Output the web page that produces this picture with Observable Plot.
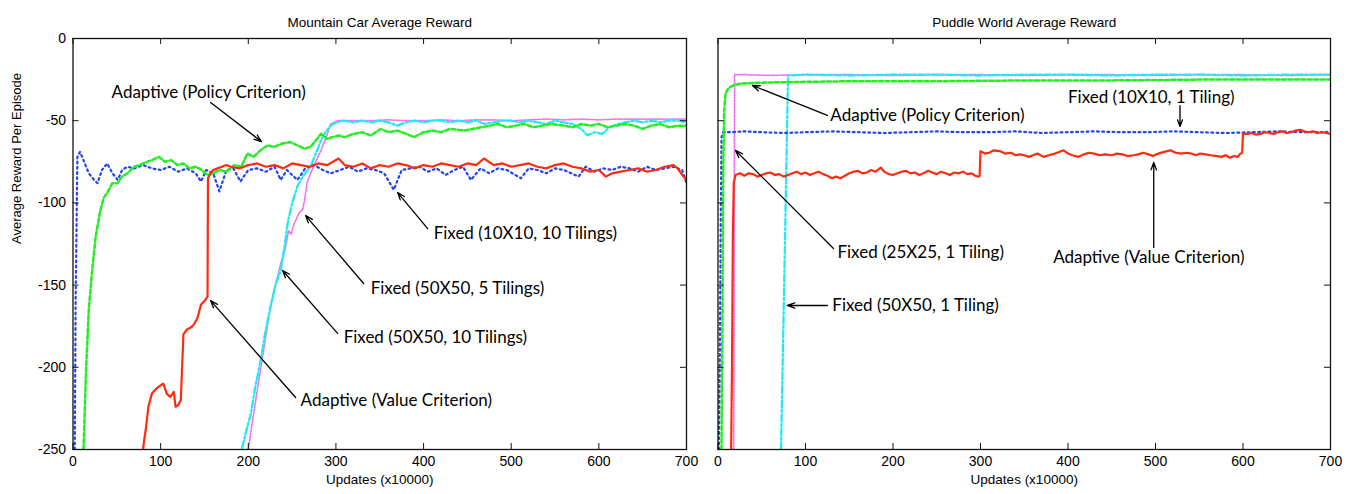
<!DOCTYPE html>
<html><head><meta charset="utf-8">
<script src="https://cdn.jsdelivr.net/npm/d3@7"></script>
<script src="https://cdn.jsdelivr.net/npm/@observablehq/plot@0.6"></script>
<style>
body{margin:0;background:#fff}
#chart{position:relative;width:1354px;height:494px;background:#fff}
#chart svg{position:absolute;top:0}
</style>
</head><body><div id="chart"></div>
<script>
// ---------- tick labels ----------
const xTicks = [0, 100, 200, 300, 400, 500, 600, 700];
const yTicks = [-250, -200, -150, -100, -50, 0];
const titles = ["Mountain Car Average Reward", "Puddle World Average Reward"];
const xLabel = "Updates (x10000)";
const yLabel = "Average Reward Per Episode";

// ---------- Mountain Car ----------
const mcFixed10x10_10T_x = [2,3,5,8,12,18,24,28,33,39,45,51,56,62,70,80,90,100,110,120,130,140,146,152,160,167,175,183,191,200,210,220,230,237,244,250,256,265,275,285,294,305,315,325,335,345,355,366,375,385,395,405,415,425,435,445,454,465,475,485,495,511,520,530,540,550,560,577,585,595,605,615,625,635,645,655,665,675,685,695,700];
const mcFixed10x10_10T_y = [-250,-160,-72,-69,-74,-82,-86,-88,-80,-76,-82,-86,-80,-78,-79,-77,-79,-80,-78,-81,-79,-82,-87,-80,-82,-93,-80,-79,-87,-80,-79,-81,-78,-86,-80,-83,-86,-79,-77,-80,-82,-80,-78,-81,-79,-80,-82,-92,-80,-79,-78,-81,-79,-83,-80,-78,-86,-79,-82,-79,-80,-85,-79,-80,-82,-79,-80,-84,-78,-81,-79,-80,-78,-79,-81,-78,-80,-79,-78,-80,-88];

const mcAdaptivePolicy_x = [12,15,18,22,26,31,35,40,45,51,56,62,70,76,82,90,98,105,112,119,126,133,140,147,153,160,167,175,184,192,199,206,214,222,230,238,248,256,264,271,277,283,290,296,303,310,320,330,340,351,360,370,380,389,400,410,420,430,446,456,466,476,485,495,505,515,525,535,545,560,570,580,590,600,610,620,630,640,650,660,670,680,690,700];
const mcAdaptivePolicy_y = [-250,-200,-165,-140,-120,-105,-97,-93,-88,-88,-84,-82,-78,-77,-75.5,-74,-72,-75,-74,-77,-76,-79,-78,-80,-83,-82,-80,-81,-77,-78,-70,-72,-68,-65,-66,-64,-63,-65,-67,-66,-62,-58,-61,-60,-59,-60,-58,-57,-59,-55,-57,-56,-58,-60,-57,-56,-57,-55,-56,-55,-54,-53,-52,-54,-53,-52,-54,-53,-52,-53,-54,-52,-53,-52,-54,-53,-52,-53,-55,-53,-52,-54,-53,-53];

const mcAdaptiveValue_x = [80,81,83,86,90,95,100,103,107,111,115,117,120,123,126,130,134,138,142,146,151,153.5,154,157,160,165,170,175,180,190,200,210,220,230,240,250,260,270,280,290,303,310,320,330,340,350,360,370,380,390,400,410,420,430,440,450,460,469,480,490,500,510,520,530,540,550,560,570,580,590,600,608,615,625,635,645,655,665,675,685,690,695,700];
const mcAdaptiveValue_y = [-250,-245,-238,-224,-216,-213,-211,-210,-216,-218,-215,-224,-223,-220,-180,-177,-176,-174,-170,-162,-159,-157,-85,-82,-80,-79,-78,-77,-78,-79,-77,-76,-78,-77,-79,-76,-77,-78,-76,-77,-73,-77,-78,-76,-79,-77,-78,-76,-77,-79,-77,-78,-76,-77,-78,-76,-77,-73,-77,-76,-78,-77,-76,-78,-79,-77,-76,-78,-79,-81,-80,-84,-82,-81,-80,-79,-81,-80,-78,-77,-79,-83,-86];

const mcFixed50x50_10T_x = [193,198,203,208,214,219,225,231,237,241,245,250,256,262,268,271,277,283,288,294,300,309,320,330,340,350,360,370,380,390,400,410,420,430,440,450,460,470,480,490,500,510,520,530,540,550,560,570,580,587,595,604,612,622,630,640,650,660,670,680,690,700];
const mcFixed50x50_10T_y = [-249,-238,-228,-212,-196,-180,-164,-150,-141,-128,-112,-100,-90,-84,-80,-78,-70,-62,-57,-53,-51,-50,-51,-50,-51,-50,-51,-53,-51,-50,-51,-50,-50,-51,-50,-51,-50,-52,-51,-50,-50,-51,-50,-51,-52,-50,-51,-52,-55,-59,-57,-58,-54,-52,-51,-50,-51,-50,-51,-50,-50,-51];

const mcFixed50x50_5T_x = [200,205,212,218,225,231,237,242,246,249,252,258,262,264,267,271,277,283,289,294,298,302,320,340,360,380,400,420,440,460,480,500,520,540,560,580,600,620,640,660,680,700];
const mcFixed50x50_5T_y = [-250,-232,-208,-188,-164,-150,-137,-128,-117,-119,-113,-106,-104,-99,-88,-82,-75,-68,-60,-52,-51,-50,-50,-50,-49.5,-50,-50,-49.5,-50,-49.5,-49.5,-50,-49.5,-49,-49.5,-49,-49.5,-49,-49,-49,-49,-49];

// ---------- Puddle World ----------
const pwFixed10x10_1T_x = [1,2,3,4,6,15,30,50,75,100,130,160,190,220,250,280,310,340,370,400,430,460,490,520,550,580,610,640,670,700];
const pwFixed10x10_1T_y = [-250,-200,-120,-60,-57,-57,-56.5,-57,-57.5,-57,-56.5,-57,-57.5,-57,-56.5,-57,-57,-56.5,-57.5,-57,-56.5,-57,-57,-56.5,-57,-57.5,-57,-56.5,-57,-57];

const pwAdaptivePolicy_x = [4,5,6,7,8.5,11,14,18,25,40,80,150,250,350,450,550,650,700];
const pwAdaptivePolicy_y = [-250,-180,-80,-45,-34,-31,-29.5,-28.5,-27.5,-27,-26.5,-26,-26,-25.5,-25.5,-25,-25,-25];

const pwFixed25x25_1T_x = [18,18.5,19,30,60,100,150,200,250,300,350,400,450,500,550,600,650,700];
const pwFixed25x25_1T_y = [-250,-120,-22,-22,-22.5,-22,-22,-22.5,-22,-22,-22.5,-22,-22,-22.5,-22,-22,-22.5,-22];

const pwFixed50x50_1T_x = [72,76,80,100,150,200,250,300,350,400,450,500,550,600,650,700];
const pwFixed50x50_1T_y = [-250,-140,-22.5,-22,-22.5,-22,-22,-22.5,-22,-22,-22.5,-22,-22,-22.5,-22,-22];

const pwAdaptiveValue_x = [15,16,17,18,20,25,30,35,40,45,50,55,60,65,70,75,80,85,90,95,100,105,110,115,120,125,130,135,140,145,150,155,160,165,170,175,180,186,190,195,200,205,210,215,220,225,230,235,240,245,250,255,260,265,270,275,280,285,290,294,298,299,300,305,310,315,322,328,335,340,345,350,355,360,365,372,378,385,390,395,400,405,412,418,424,430,436,442,450,456,462,468,475,480,486,492,497,503,510,517,523,529,535,541,546,551,557,563,570,576,580,585,590,594,597,599,600,605,610,615,620,625,630,635,640,645,650,655,660,665,670,675,680,685,690,695,700];
const pwAdaptiveValue_y = [-250,-200,-120,-88,-83,-82,-83.5,-82,-82.5,-84,-83,-82,-81.5,-83,-82.5,-84,-83,-82,-81,-82.5,-81.5,-83,-82,-81,-82.5,-83.5,-85,-84,-85,-83.5,-82,-81,-80.5,-82,-81.5,-80,-81,-78.5,-81,-82.5,-83,-82,-81,-80.5,-82,-81.5,-83,-82,-80.5,-81.5,-82.5,-81,-82,-83,-81.5,-82,-81,-82.5,-82,-83.5,-84,-83.5,-68.5,-70,-69.5,-68,-68.5,-70,-69.5,-71,-70.5,-71,-72,-71,-70,-72,-71,-70,-69,-68,-70,-71,-72,-70.5,-69.5,-70,-71,-70.5,-71,-70,-70.5,-71.5,-71,-70.5,-69.5,-70.5,-71.5,-70,-69,-68,-69.5,-70,-69.5,-70,-71,-70,-70.5,-71,-71.5,-72,-71,-72.5,-71.5,-72,-70,-69.5,-58,-58,-57.5,-58.5,-58,-57,-57.5,-58,-57,-56.5,-57.5,-57,-56,-55.5,-56.5,-57,-56.5,-57.5,-57,-57.5,-58];

// ---------- annotations (data units) ----------
const mcNoteText = ["Adaptive (Policy Criterion)", "Fixed (10X10, 10 Tilings)", "Fixed (50X50, 5 Tilings)", "Fixed (50X50, 10 Tilings)", "Adaptive (Value Criterion)"];
const mcNoteAt = [[44,-32.8],[411.5,-118.6],[339.6,-152],[308.8,-181.9],[259.7,-220.2]];
const mcNoteArrow = [[157,-38.9,215,-62.7],[404.7,-115.6,370.4,-93.7],[331.6,-149,265.4,-107.7],[301.9,-179.4,239.2,-141.1],[254,-218.4,157,-159.4]];

const pwNoteText = ["Adaptive (Policy Criterion)", "Fixed (10X10, 1 Tiling)", "Fixed (25X25, 1 Tiling)", "Adaptive (Value Criterion)", "Fixed (50X50, 1 Tiling)"];
const pwNoteAt = [[128.4,-46.8],[400,-35.9],[136.5,-130.2],[383,-133.2],[130.7,-162.4]];
const pwNoteArrow = [[125,-46.8,39.4,-28.6],[528,-40.8,528,-53.5],[132,-127.7,20,-68.1],[498,-127.1,498,-75.4],[125,-162.4,79.3,-162.4]];

// ---------- styles ----------
const styleMagenta = {stroke:"#f070f0", strokeWidth:1.7, strokeDasharray:"1.4,1.6"};
const styleCyan = {stroke:"#22e8f8", strokeWidth:2.3, strokeDasharray:"7,2.5,2,2.5"};
const styleBlue = {stroke:"#2244f0", strokeWidth:2.2, strokeDasharray:"1.8,3.4"};
const styleGreen = {stroke:"#22ee22", strokeWidth:2.5, strokeDasharray:"4,2.5"};
const styleRed = {stroke:"#ff2a10", strokeWidth:2.2};

function pts(xs, ys) { return xs.map((x, i) => ({x, y: ys[i]})); }
function notes(text, at, arrow) {
  return text.map((t, i) => ({label: t, tx: at[i][0], ty: at[i][1], x1: arrow[i][0], y1: arrow[i][1], x2: arrow[i][2], y2: arrow[i][3]}));
}

const H = 494, MT = 38, MB = 45, TICK = 6;
function panel({width, marginLeft, marginRight, title, yLabels, lines, noteData, withYLabel}) {
  const plotW = width - marginLeft - marginRight;
  const plotH = H - MT - MB;
  const marks = [
    ...lines.map(([data, style]) => Plot.line(data, {x: "x", y: "y", clip: true, ...style})),
    Plot.frame({stroke: "#111", strokeWidth: 1.3}),
    Plot.tickX(xTicks, {x: d => d, insetTop: plotH - TICK, stroke: "#111"}),
    Plot.tickX(xTicks, {x: d => d, insetBottom: plotH - TICK, stroke: "#111"}),
    Plot.tickY(yTicks, {y: d => d, insetRight: plotW - TICK, stroke: "#111"}),
    Plot.tickY(yTicks, {y: d => d, insetLeft: plotW - TICK, stroke: "#111"}),
    Plot.axisX(xTicks, {anchor: "bottom", tickSize: 0, tickPadding: 7, label: null, tickFormat: d => String(d), fontSize: 14}),
    Plot.text([title], {text: d => d, frameAnchor: "top", dy: -21, fontSize: 13.5}),
    Plot.text([xLabel], {text: d => d, frameAnchor: "bottom", dy: 34, fontSize: 13.5}),
    Plot.arrow(noteData, {x1: "x1", y1: "y1", x2: "x2", y2: "y2", stroke: "black", strokeWidth: 1.3, headLength: 9, headAngle: 40, bend: 0}),
    Plot.text(noteData, {x: "tx", y: "ty", text: "label", textAnchor: "start", fontFamily: "Lato, 'Noto Sans', sans-serif", fontSize: 17, fill: "black"})
  ];
  if (yLabels) marks.push(Plot.axisY(yTicks, {anchor: "left", tickSize: 0, tickPadding: 7, label: null, tickFormat: d => String(d), fontSize: 14}));
  if (withYLabel) marks.push(Plot.text([yLabel], {text: d => d, frameAnchor: "left", dx: -56, rotate: -90, fontSize: 13}));
  return Plot.plot({
    width, height: H, marginTop: MT, marginBottom: MB, marginLeft, marginRight,
    x: {domain: [0, 700], axis: null}, y: {domain: [-250, 0], axis: null},
    style: {fontFamily: "'Liberation Sans', Arial, sans-serif", fontSize: "14px", background: "white", overflow: "visible", color: "black"},
    marks
  });
}

const left = panel({
  width: 700, marginLeft: 72.5, marginRight: 14, title: titles[0], yLabels: true, withYLabel: true,
  lines: [
    [pts(mcFixed50x50_5T_x, mcFixed50x50_5T_y), styleMagenta],
    [pts(mcFixed50x50_10T_x, mcFixed50x50_10T_y), styleCyan],
    [pts(mcFixed10x10_10T_x, mcFixed10x10_10T_y), styleBlue],
    [pts(mcAdaptivePolicy_x, mcAdaptivePolicy_y), styleGreen],
    [pts(mcAdaptiveValue_x, mcAdaptiveValue_y), styleRed]
  ],
  noteData: notes(mcNoteText, mcNoteAt, mcNoteArrow)
});
const right = panel({
  width: 654, marginLeft: 17.5, marginRight: 24, title: titles[1], yLabels: false, withYLabel: false,
  lines: [
    [pts(pwFixed25x25_1T_x, pwFixed25x25_1T_y), styleMagenta],
    [pts(pwFixed50x50_1T_x, pwFixed50x50_1T_y), styleCyan],
    [pts(pwFixed10x10_1T_x, pwFixed10x10_1T_y), styleBlue],
    [pts(pwAdaptivePolicy_x, pwAdaptivePolicy_y), styleGreen],
    [pts(pwAdaptiveValue_x, pwAdaptiveValue_y), styleRed]
  ],
  noteData: notes(pwNoteText, pwNoteAt, pwNoteArrow)
});
left.style.left = "0px";
right.style.left = "700px";
const chart = document.getElementById("chart");
chart.appendChild(left);
chart.appendChild(right);
</script></body></html>
